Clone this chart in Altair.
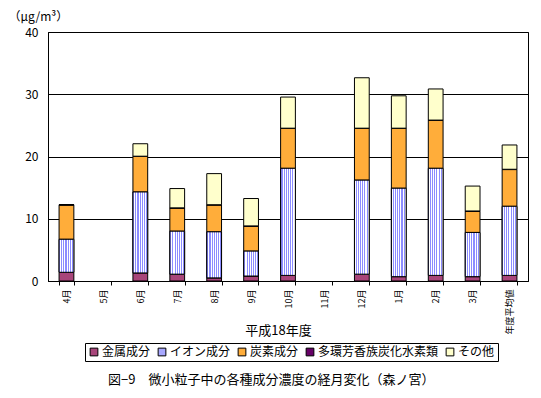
import altair as alt
import pandas as pd

months = ["4月", "5月", "6月", "7月", "8月", "9月", "10月", "11月", "12月", "1月", "2月", "3月", "年度平均値"]
components = ["金属成分", "イオン成分", "炭素成分", "多環芳香族炭化水素類", "その他"]
colors = ["#A8457A", "#A8A8FF", "#FFAD3A", "#660066", "#FFFFCC"]

metal  = [1.4, None, 1.3, 1.1, 0.5, 0.8, 0.9, None, 1.1, 0.7, 0.9, 0.7, 0.9]
ion    = [5.3, None, 13.0, 6.9, 7.4, 4.0, 17.2, None, 15.1, 14.2, 17.2, 7.1, 11.1]
carbon = [5.5, None, 5.7, 3.7, 4.3, 4.0, 6.4, None, 8.3, 9.6, 7.7, 3.4, 5.9]
pah    = [0.05, None, 0.05, 0.05, 0.05, 0.05, 0.05, None, 0.05, 0.05, 0.05, 0.05, 0.05]
other  = [0.0, None, 2.0, 3.1, 5.0, 4.4, 5.0, None, 8.1, 5.2, 5.0, 4.0, 3.9]

series = [metal, ion, carbon, pah, other]
rows = []
for i, m in enumerate(months):
    base = 0.0
    for comp, vals in zip(components, series):
        v = vals[i]
        if v is None:
            continue
        rows.append({"month": m, "component": comp, "start": base, "end": base + v})
        base += v
df = pd.DataFrame(rows)

FONT = "Noto Sans CJK JP"

# vertical stripe gradient for the ion component
n_stripes = 16
stops = []
for k in range(n_stripes):
    c = "#8C8CFF" if k % 2 == 0 else "#FFFFFF"
    stops.append({"offset": k / n_stripes, "color": c})
    stops.append({"offset": (k + 1) / n_stripes, "color": c})
stripe = {"gradient": "linear", "x1": 0, "x2": 1, "y1": 0, "y2": 0, "stops": stops}

x_enc = alt.X("month:N", sort=months,
              scale=alt.Scale(domain=months, paddingInner=0.6, paddingOuter=0.3),
              axis=alt.Axis(title="平成18年度", labelAngle=270, labelFontSize=9,
                            tickSize=4, tickBand="extent", labelPadding=4,
                            domainColor="black", tickColor="black", labelColor="black",
                            titleX=230, titleAlign="center",
                            titleY=49, titleBaseline="middle", titleFontSize=13,
                            titleFontWeight="normal", titleColor="black"))
y_enc = alt.Y("start:Q", scale=alt.Scale(domain=[0, 40]),
              axis=alt.Axis(values=[0, 10, 20, 30, 40], tickSize=0, labelPadding=10,
                            labelFontSize=12, domainColor="black", gridColor="black",
                            gridOpacity=1, labelColor="black",
                            title="（μg/m³）", titleAngle=0, titleAlign="left",
                            titleBaseline="middle", titleX=-40, titleY=-16,
                            titleFontSize=12, titleFontWeight="normal", titleColor="black"))

bars = alt.Chart(df).mark_bar(stroke="black", strokeWidth=1).encode(
    x=x_enc,
    y=y_enc,
    y2="end:Q",
    color=alt.Color("component:N",
                    scale=alt.Scale(domain=components, range=colors),
                    legend=alt.Legend(title=None, orient="none", legendX=37, legendY=311,
                                      direction="horizontal", columns=5,
                                      strokeColor="black", padding=3,
                                      symbolType="square", symbolSize=60,
                                      symbolStrokeColor="black", symbolStrokeWidth=1,
                                      labelFontSize=12, labelFont=FONT, labelColor="black",
                                      labelOffset=2, columnPadding=5)),
)

ion_layer = alt.Chart(df).transform_filter(
    alt.datum.component == "イオン成分"
).mark_bar(fill=stripe, stroke="black", strokeWidth=1).encode(
    x=alt.X("month:N", sort=months), y="start:Q", y2="end:Q"
)

chart = alt.layer(bars, ion_layer).properties(
    width=480, height=249,
    title=alt.TitleParams("図−9　微小粒子中の各種成分濃度の経月変化（森ノ宮）",
                          orient="bottom", anchor="start", dx=100, offset=12,
                          fontSize=13, fontWeight="normal", font=FONT, color="black"),
    autosize=alt.AutoSizeParams(type="none"),
    padding={"left": 40, "top": 24, "right": 5, "bottom": 105},
).configure(font=FONT).configure_view(stroke="black", strokeWidth=1)

chart.save("out.html", embed_options={"renderer": "svg", "actions": False})
